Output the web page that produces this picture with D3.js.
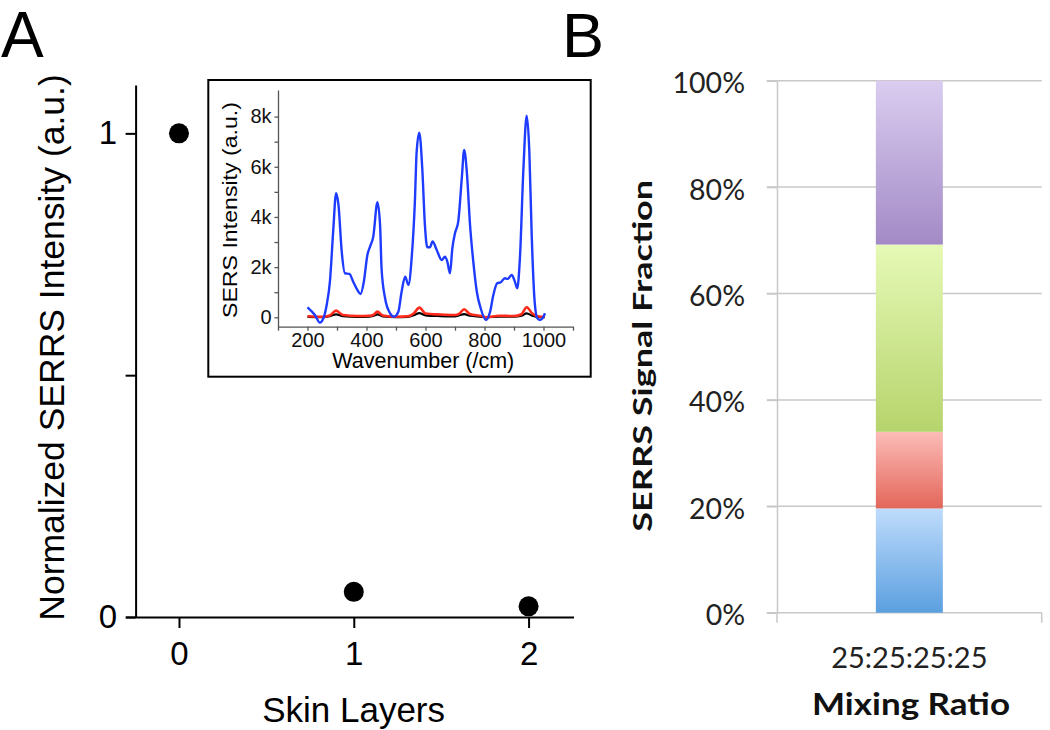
<!DOCTYPE html>
<html><head><meta charset="utf-8">
<script src="https://cdn.jsdelivr.net/npm/d3@7"></script>
<style>
body{margin:0;background:#fff;}
svg{display:block;background:#fff;}
</style></head><body>
<svg id="chart" width="1050" height="730"></svg>
<script>
// ---------- Panel A data ----------
const layers = [0, 1, 2];
const normIntensity = [1.0, 0.052, 0.022];
const layerTicks = [0, 1, 2];
const intensityTicks = [0, 0.5, 1];

// ---------- Inset spectra ----------
const blueWn = [200,225,242,254,265,276,287,297,305,316,327,342,355,369,380,391,403,412,423,437,446,451,463,480,493,508,519,531,542,553,564,570,579,589,598,606,615,624,638,655,666,674,683,691,700,711,723,731,740,751,762,774,787,805,819,830,843,855,869,879,892,903,911,920,932,943,952,960,970,979,988,999,1005];
const blueI  = [400,93,-213,-40,490,1420,3415,4945,4480,2620,1755,1730,1420,1090,930,1420,2485,2820,3215,4585,3680,1955,760,160,27,225,1020,1620,1290,2350,4610,6600,7360,5940,3680,2790,2790,3020,2685,2285,2420,2220,1755,2750,3350,3815,5540,6670,5810,3680,2220,1020,360,-106,225,890,1355,1395,1555,1530,1690,1420,1155,2350,5940,8040,6600,3280,625,-40,-106,0,160];
const baseWn = [200,250,275,297,320,370,410,425,437,455,500,540,560,579,600,650,700,715,731,750,790,805,850,900,925,943,962,985,1005];
const redI   = [40,20,70,265,90,50,60,110,225,70,20,40,150,385,150,110,90,150,320,130,50,0,60,50,120,400,150,30,20];
const blackI = [15,5,40,120,45,20,30,60,120,35,5,20,80,170,80,50,40,80,130,60,20,0,25,25,60,160,60,10,10];
const insetYTicks = [0,1000,2000,3000,4000,5000,6000,7000,8000];
const insetXTicks = [100,200,300,400,500,600,700,800,900,1000,1100];

// ---------- Panel B data ----------
const mixCategories = ['25:25:25:25'];
const fractionKeys = ['blue', 'red', 'green', 'purple'];
const fractionValues = [19.6, 14.4, 35.2, 30.8];
const percentTicks = [0, 20, 40, 60, 80, 100];
const gradColors = {
  blue:   ['#bfdcfc', '#5b9fe0'],
  red:    ['#fcbcb8', '#e3665a'],
  green:  ['#e6f9b6', '#b6d46c'],
  purple: ['#dacdf0', '#a38ac6']
};

const svg = d3.select('#chart');
const fontA = "'Liberation Sans', Arial, sans-serif";
const fontB = "Lato, 'Open Sans', sans-serif";

// ================= Panel A =================
const xA = d3.scaleLinear().domain([-0.306, 2.257]).range([125.5, 573.5]);
const yA = d3.scaleLinear().domain([0, 1.1]).range([617, 85]);
const gA = svg.append('g');

const xAxA = gA.append('g').attr('transform', `translate(0,${yA(0)})`)
  .call(d3.axisBottom(xA).tickValues(layerTicks).tickSize(11).tickSizeOuter(0).tickPadding(14).tickFormat(d3.format('d')));
const yAxA = gA.append('g').attr('transform', `translate(${xA(-0.306) + 10.1},0)`)
  .call(d3.axisLeft(yA).tickValues(intensityTicks).tickSize(10).tickSizeOuter(0).tickPadding(8.6)
    .tickFormat(d => d === 0.5 ? '' : d3.format('d')(d)));
[xAxA, yAxA].forEach(ax => {
  ax.select('.domain').attr('stroke', '#000').attr('stroke-width', 2);
  ax.selectAll('.tick line').attr('stroke', '#000').attr('stroke-width', 2);
  ax.selectAll('text').attr('font-family', fontA).attr('font-size', 33).attr('fill', '#000');
});

gA.selectAll('circle.pt').data(layers).join('circle').attr('class', 'pt')
  .attr('cx', d => xA(d)).attr('cy', (d, i) => yA(normIntensity[i])).attr('r', 10).attr('fill', '#000');

gA.append('text').attr('transform', 'translate(63.6,347.5) rotate(-90)')
  .attr('text-anchor', 'middle').attr('font-family', fontA).attr('font-size', 35.5)
  .text('Normalized SERRS Intensity (a.u.)');
gA.append('text').attr('x', 353.6).attr('y', 722).attr('text-anchor', 'middle')
  .attr('font-family', fontA).attr('font-size', 35).text('Skin Layers');
svg.append('text').attr('x', 1).attr('y', 57).attr('font-family', fontA).attr('font-size', 64).text('A');
svg.append('text').attr('x', 562).attr('y', 57).attr('font-family', fontA).attr('font-size', 63).text('B');

// ---------- Inset ----------
const gI = svg.append('g');
gI.append('rect').attr('x', 208.3).attr('y', 80).attr('width', 382.4).attr('height', 296.7)
  .attr('fill', '#fff').attr('stroke', '#000').attr('stroke-width', 2);
const xI = d3.scaleLinear().domain([100, 1100]).range([278, 573]);
const yI = d3.scaleLinear().domain([-375, 9060]).range([326.7, 90]);
const xAxI = gI.append('g').attr('transform', `translate(0,${yI(-375)})`)
  .call(d3.axisBottom(xI).tickValues(insetXTicks).tickSize(4).tickSizeOuter(0).tickPadding(2.6)
    .tickFormat(d => (d % 200 === 0 && d >= 200 && d <= 1000) ? d : ''));
const yAxI = gI.append('g').attr('transform', `translate(${xI(100)},0)`)
  .call(d3.axisLeft(yI).tickValues(insetYTicks).tickSize(3.5).tickSizeOuter(0).tickPadding(3)
    .tickFormat(d => d % 2000 === 0 ? (d === 0 ? '0' : (d / 1000) + 'k') : ''));
[xAxI, yAxI].forEach(ax => {
  ax.select('.domain').attr('stroke', '#555').attr('stroke-width', 1.3);
  ax.selectAll('.tick line').attr('stroke', '#555').attr('stroke-width', 1.3);
  ax.selectAll('text').attr('font-family', fontA).attr('font-size', 20).attr('fill', '#111');
});
const lineI = d3.line().x(d => xI(d[0])).y(d => yI(d[1])).curve(d3.curveMonotoneX);
gI.append('path').datum(baseWn.map((w, i) => [w, blackI[i]])).attr('d', lineI)
  .attr('fill', 'none').attr('stroke', '#000').attr('stroke-width', 2.2);
gI.append('path').datum(baseWn.map((w, i) => [w, redI[i]])).attr('d', lineI)
  .attr('fill', 'none').attr('stroke', '#ff2a1a').attr('stroke-width', 2.6);
gI.append('path').datum(blueWn.map((w, i) => [w, blueI[i]])).attr('d', lineI)
  .attr('fill', 'none').attr('stroke', '#1e3cff').attr('stroke-width', 2.4);
gI.append('text').attr('transform', 'translate(236.7,210) rotate(-90)')
  .attr('text-anchor', 'middle').attr('font-family', fontA).attr('font-size', 21)
  .attr('textLength', 216).attr('lengthAdjust', 'spacingAndGlyphs').text('SERS Intensity (a.u.)');
gI.append('text').attr('x', 423.3).attr('y', 368.3).attr('text-anchor', 'middle')
  .attr('font-family', fontA).attr('font-size', 21.5).text('Wavenumber (/cm)');

// ================= Panel B =================
const gB = svg.append('g');
const yB = d3.scaleLinear().domain([0, 100]).range([612.7, 80.7]);
const xB = d3.scaleBand().domain(mixCategories).range([777, 1041.7]).padding(0.596);
const defs = svg.append('defs');
fractionKeys.forEach(k => {
  const lg = defs.append('linearGradient').attr('id', 'g-' + k)
    .attr('x1', 0).attr('y1', 0).attr('x2', 0).attr('y2', 1);
  lg.append('stop').attr('offset', '0%').attr('stop-color', gradColors[k][0]);
  lg.append('stop').attr('offset', '100%').attr('stop-color', gradColors[k][1]);
});
// gridlines
gB.selectAll('line.grid').data(percentTicks).join('line').attr('class', 'grid')
  .attr('x1', 766.7).attr('x2', xB.range()[1]).attr('y1', d => yB(d)).attr('y2', d => yB(d))
  .attr('stroke', '#c8c8c8').attr('stroke-width', 1.5);
// y axis
const yAxB = gB.append('g').attr('transform', `translate(${xB.range()[0]},0)`)
  .call(d3.axisLeft(yB).tickValues(percentTicks).tickSize(10).tickSizeOuter(0).tickPadding(22)
    .tickFormat(d => d + '%'));
yAxB.select('.domain').attr('stroke', '#c8c8c8').attr('stroke-width', 1.5);
yAxB.selectAll('.tick line').attr('stroke', '#c8c8c8').attr('stroke-width', 1.5);
yAxB.selectAll('text').attr('font-family', fontB).attr('font-size', 28.5).attr('fill', '#222').attr('dy', '0.42em');
// x axis (category boundaries ticks)
gB.selectAll('line.xt').data(xB.range()).join('line').attr('class', 'xt')
  .attr('x1', d => d).attr('x2', d => d).attr('y1', yB(0)).attr('y2', yB(0) + 10)
  .attr('stroke', '#c8c8c8').attr('stroke-width', 1.5);
const xAxB = gB.append('g').attr('transform', `translate(0,${yB(0)})`)
  .call(d3.axisBottom(xB).tickSize(0).tickPadding(34.7));
xAxB.select('.domain').remove();
xAxB.selectAll('text').attr('font-family', fontB).attr('font-size', 29).attr('fill', '#222');

// stacked bar
const rowData = mixCategories.map(c => {
  const o = { cat: c };
  fractionKeys.forEach((k, i) => o[k] = fractionValues[i]);
  return o;
});
const stacked = d3.stack().keys(fractionKeys)(rowData);
gB.selectAll('g.layer').data(stacked).join('g').attr('class', 'layer')
  .attr('fill', d => `url(#g-${d.key})`)
  .selectAll('rect').data(d => d).join('rect')
  .attr('x', d => xB(d.data.cat)).attr('width', xB.bandwidth())
  .attr('y', d => yB(d[1])).attr('height', d => yB(d[0]) - yB(d[1]));

gB.append('text').attr('transform', 'translate(651.7,355.8) rotate(-90)')
  .attr('text-anchor', 'middle').attr('font-family', fontB).attr('font-weight', 'bold')
  .attr('font-size', 26).attr('textLength', 352).attr('lengthAdjust', 'spacingAndGlyphs')
  .attr('fill', '#111').text('SERRS Signal Fraction');
gB.append('text').attr('x', 911).attr('y', 715).attr('text-anchor', 'middle')
  .attr('font-family', fontB).attr('font-weight', 'bold').attr('font-size', 31)
  .attr('textLength', 198).attr('lengthAdjust', 'spacingAndGlyphs')
  .attr('fill', '#111').text('Mixing Ratio');
</script>
</body></html>
